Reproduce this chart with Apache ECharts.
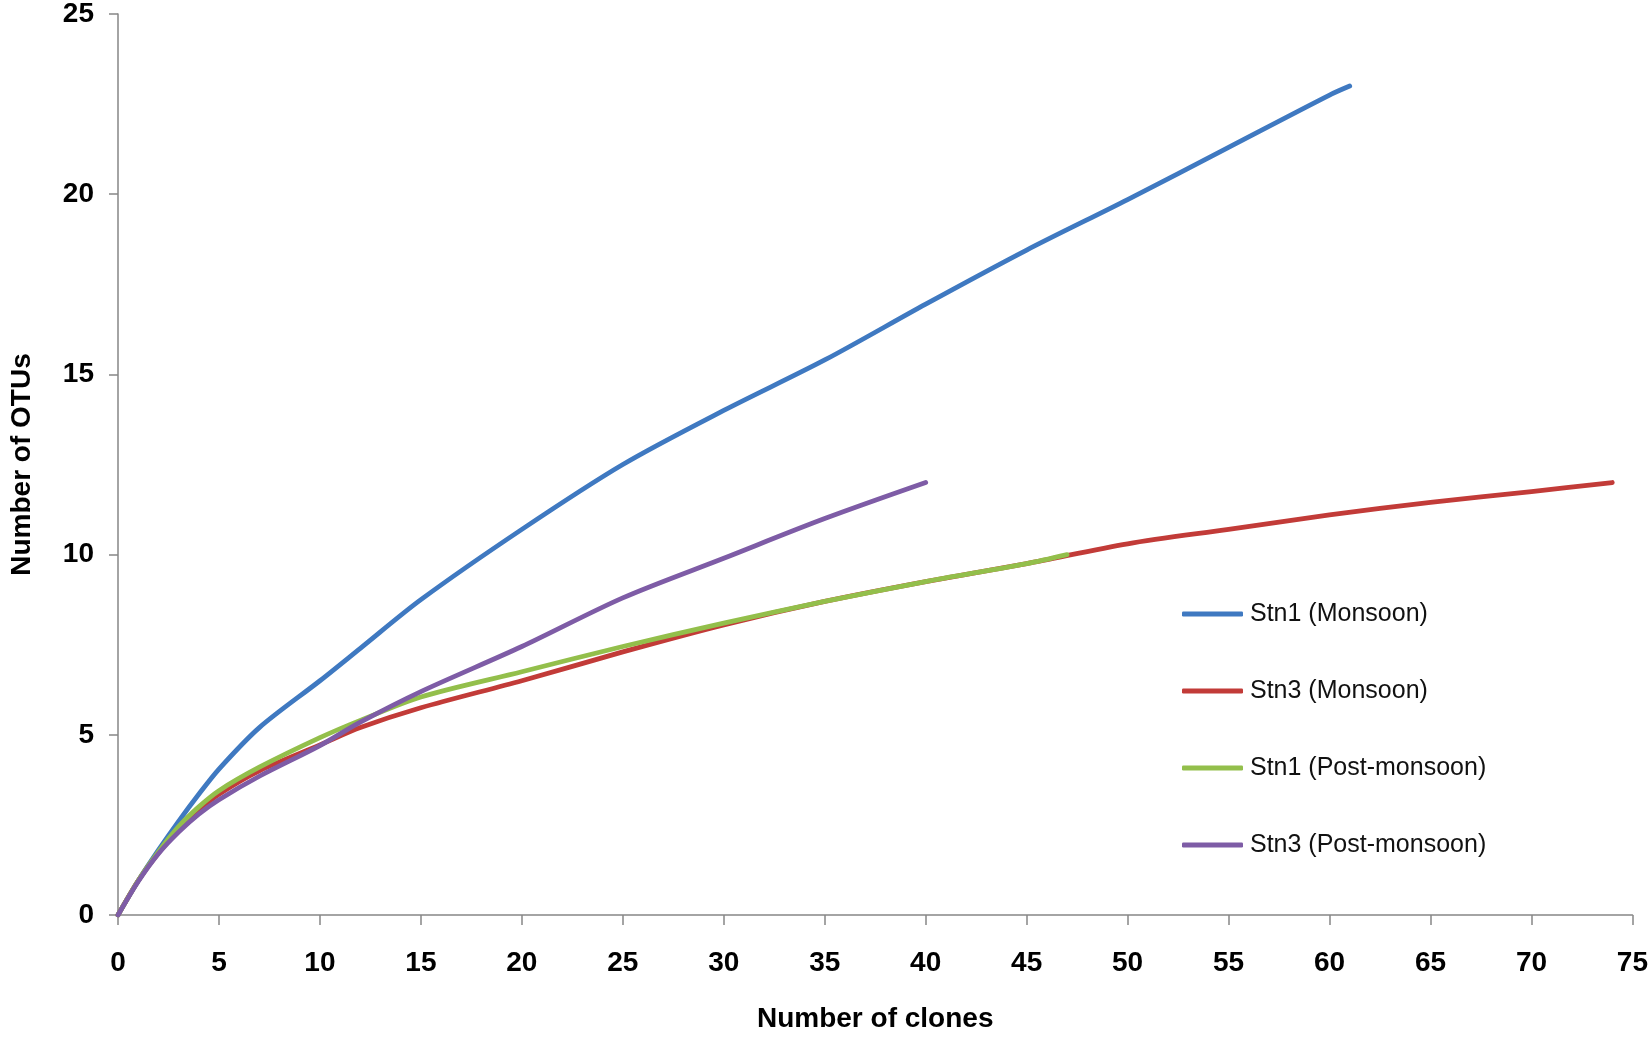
<!DOCTYPE html>
<html>
<head>
<meta charset="utf-8">
<title>Rarefaction curves</title>
<script src="https://cdn.jsdelivr.net/npm/echarts@6/dist/echarts.min.js"></script>
<style>
  html, body { margin: 0; padding: 0; background: #fff; }
  #chart { width: 1651px; height: 1038px; }
</style>
</head>
<body>
<div id="chart"></div>
<script>
// values (clones -> OTUs)
var seriesNames = ['Stn1 (Monsoon)', 'Stn3 (Monsoon)', 'Stn1 (Post-monsoon)', 'Stn3 (Post-monsoon)'];

var clonesStn1Mon = [0, 1, 2, 3, 4, 5, 7, 10, 12, 15, 20, 25, 30, 35, 40, 45, 50, 55, 60, 61];
var otusStn1Mon   = [0, 0.95, 1.8, 2.6, 3.35, 4.05, 5.2, 6.5, 7.4, 8.75, 10.7, 12.5, 14.0, 15.4, 16.95, 18.45, 19.85, 21.3, 22.75, 23];

var clonesStn3Mon = [0, 1, 2, 3, 4, 5, 7, 10, 12, 15, 20, 25, 30, 35, 40, 45, 50, 55, 60, 65, 70, 74];
var otusStn3Mon   = [0, 0.95, 1.72, 2.35, 2.9, 3.35, 4.0, 4.72, 5.2, 5.75, 6.5, 7.3, 8.05, 8.7, 9.25, 9.75, 10.3, 10.7, 11.1, 11.45, 11.75, 12];

var clonesStn1Post = [0, 1, 2, 3, 4, 5, 7, 10, 12, 15, 20, 25, 30, 35, 40, 45, 47];
var otusStn1Post   = [0, 0.95, 1.75, 2.45, 3.0, 3.45, 4.1, 4.92, 5.4, 6.05, 6.75, 7.45, 8.1, 8.7, 9.25, 9.75, 10];

var clonesStn3Post = [0, 1, 2, 3, 4, 5, 7, 10, 12, 15, 20, 25, 30, 35, 40];
var otusStn3Post   = [0, 0.93, 1.7, 2.3, 2.8, 3.2, 3.85, 4.7, 5.35, 6.2, 7.45, 8.8, 9.9, 11.0, 12];

var xTicks = [0, 5, 10, 15, 20, 25, 30, 35, 40, 45, 50, 55, 60, 65, 70, 75];
var yTicks = [0, 5, 10, 15, 20, 25];

var colors = ['#3f79c1', '#c23b38', '#93bf4b', '#7e5ca6'];

function pairs(xs, ys) {
	var out = [];
	for (var i = 0; i < xs.length; i++) {
		out.push([xs[i], ys[i]]);
	}
	return out;
}

var allData = [
	pairs(clonesStn1Mon, otusStn1Mon),
	pairs(clonesStn3Mon, otusStn3Mon),
	pairs(clonesStn1Post, otusStn1Post),
	pairs(clonesStn3Post, otusStn3Post)
];

var series = [];
for (var i = 0; i < seriesNames.length; i++) {
	series.push({
		name: seriesNames[i],
		type: 'line',
		data: allData[i],
		showSymbol: false,
		symbol: 'none',
		smooth: 0.3,
		lineStyle: { width: 4.8, color: colors[i], cap: 'round', join: 'round' },
		itemStyle: { color: colors[i] },
		z: 2 + i
	});
}

var myChart = echarts.init(document.getElementById('chart'));

var axisFont = 'Liberation Sans, Arial, sans-serif';

var option = {
	backgroundColor: '#ffffff',
	animation: false,
	color: colors,
	grid: { left: 112, right: 18, top: 11, bottom: 119, containLabel: false },
	legend: {
		orient: 'vertical',
		left: 1177,
		top: 594,
		itemWidth: 61,
		itemHeight: 5,
		itemGap: 47,
		icon: 'roundRect',
		data: seriesNames,
		textStyle: {
			fontFamily: 'Liberation Sans, Arial, sans-serif',
			fontSize: 25,
			color: '#111',
			lineHeight: 30,
			padding: [0, 0, 0, 2]
		}
	},
	xAxis: {
		type: 'value',
		min: 0,
		max: 75,
		interval: 5,
		name: 'Number of clones',
		nameLocation: 'middle',
		nameGap: 90,
		nameTextStyle: { fontFamily: axisFont, fontWeight: 'bold', fontSize: 28, color: '#000' },
		axisLine: { show: true, lineStyle: { color: '#868686', width: 1.5 } },
		axisTick: { show: true, length: 10, inside: false, lineStyle: { color: '#868686', width: 1.5 } },
		axisLabel: {
			margin: 34,
			fontFamily: axisFont, fontWeight: 'bold', fontSize: 28, color: '#000',
			formatter: function (v) { return xTicks.indexOf(v) >= 0 ? String(v) : ''; }
		},
		splitLine: { show: false }
	},
	yAxis: {
		type: 'value',
		min: 0,
		max: 25,
		interval: 5,
		name: 'Number of OTUs',
		nameLocation: 'middle',
		nameGap: 82,
		nameRotate: 90,
		nameTextStyle: { fontFamily: axisFont, fontWeight: 'bold', fontSize: 28, color: '#000' },
		axisLine: { show: true, lineStyle: { color: '#868686', width: 1.5 } },
		axisTick: { show: true, length: 9, inside: false, lineStyle: { color: '#868686', width: 1.5 } },
		axisLabel: {
			margin: 24,
			fontFamily: axisFont, fontWeight: 'bold', fontSize: 28, color: '#000',
			formatter: function (v) { return yTicks.indexOf(v) >= 0 ? String(v) : ''; }
		},
		splitLine: { show: false }
	},
	series: series
};

myChart.setOption(option);
</script>
</body>
</html>
